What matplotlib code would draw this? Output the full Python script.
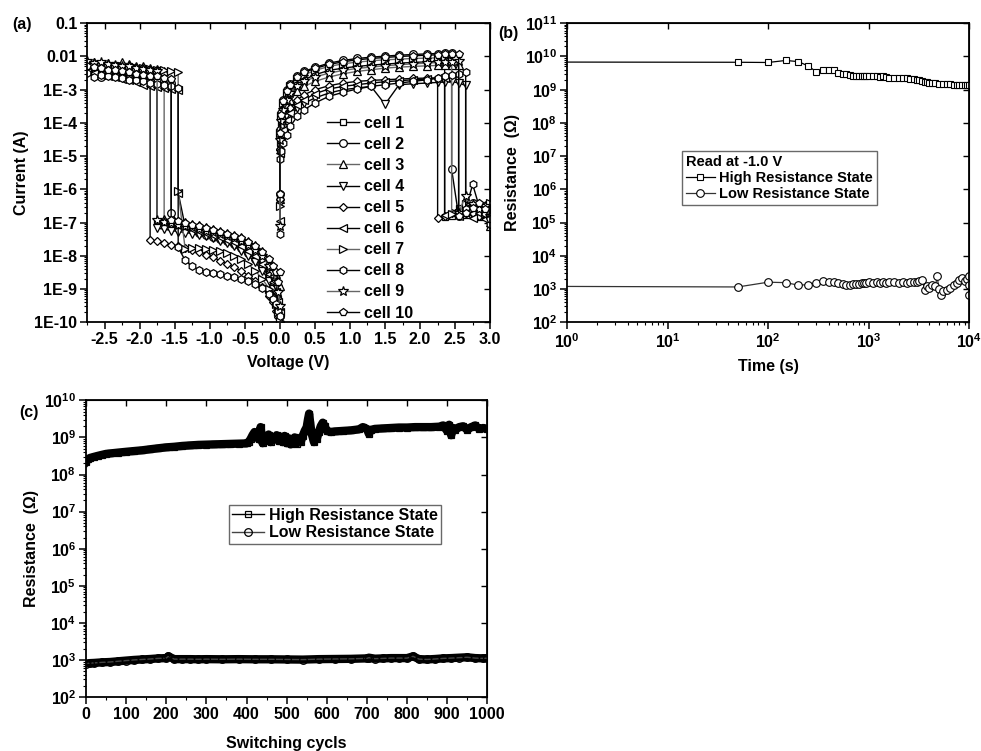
import numpy as np
import matplotlib
matplotlib.use("Agg")
import matplotlib.pyplot as plt
from matplotlib.ticker import (FixedLocator, FixedFormatter, FuncFormatter,
                               LogLocator, MultipleLocator, NullFormatter,
                               NullLocator, FormatStrFormatter)

# ---------------- (a) I-V sweeps of 10 cells (log10 of current) ----------------
cell_names = ["cell 1", "cell 2", "cell 3", "cell 4", "cell 5",
              "cell 6", "cell 7", "cell 8", "cell 9", "cell 10"]

# negative side: LRS read from -2.75 V up to the set voltage,
# HRS listed from 0 V outward down to the set voltage
neg_lrs_v = [-2.75, -2.65, -2.55, -2.45, -2.35, -2.25, -2.15, -2.05, -1.95,
             -1.85, -1.75, -1.65, -1.55, -1.45]
neg_hrs_v = [0.0, -0.02, -0.05, -0.1, -0.15, -0.25, -0.35, -0.45, -0.55, -0.65,
             -0.75, -0.85, -0.95, -1.05, -1.15, -1.25, -1.35, -1.45, -1.55,
             -1.65, -1.75, -1.85]
neg_lrs_log = [
    [-2.25, -2.28, -2.22, -2.30, -2.27, -2.33, -2.30, -2.36, -2.34, -2.40, -2.42],
    [-2.35, -2.40, -2.62, -2.55, -2.50, -2.55, -2.58, -2.60, -2.62, -2.66, -2.70, -2.75, -2.80],
    [-2.20, -2.18, -2.22, -2.20, -2.25, -2.17, -2.24, -2.28, -2.30, -2.35, -2.38, -2.45],
    [-2.40, -2.45, -2.42, -2.50, -2.55, -2.60, -2.62, -2.70, -2.75, -2.82, -2.90],
    [-2.30, -2.32, -2.35, -2.38, -2.40, -2.45, -2.48, -2.55, -2.60, -2.70],
    [-2.45, -2.50, -2.55, -2.60, -2.63, -2.68, -2.72, -2.78, -2.85, -2.88, -2.92, -2.95, -2.98, -3.00],
    [-2.25, -2.25, -2.28, -2.25, -2.30, -2.28, -2.32, -2.35, -2.35, -2.38, -2.40, -2.42, -2.45, -2.48],
    [-2.50, -2.62, -2.55, -2.58, -2.62, -2.65, -2.70, -2.72, -2.75, -2.80, -2.83, -2.85, -2.90, -2.95],
    [-2.15, -2.20, -2.18, -2.22, -2.25, -2.28, -2.30, -2.35, -2.38, -2.42, -2.45],
    [-2.30, -2.32, -2.35, -2.40, -2.42, -2.45, -2.48, -2.52, -2.55, -2.58, -2.60, -2.65, -2.68],
]
neg_hrs_log = [
    [-9.7, -9.3, -8.95, -8.65, -8.45, -8.15, -7.95, -7.8, -7.66, -7.56, -7.48, -7.41, -7.35, -7.3, -7.25, -7.2, -7.15, -7.11, -7.07, -7.03, -6.98],
    [-9.8, -9.5, -9.2, -8.9, -8.65, -8.35, -8.1, -7.92, -7.78, -7.66, -7.57, -7.5, -7.43, -7.37, -7.3, -7.22, -7.12, -7.0, -6.7],
    [-8.9, -8.8, -8.55, -8.3, -8.1, -7.85, -7.68, -7.55, -7.45, -7.38, -7.3, -7.24, -7.18, -7.13, -7.08, -7.03, -6.99, -6.95, -6.92, -6.88],
    [-9.9, -9.6, -9.3, -9.0, -8.75, -8.45, -8.2, -8.0, -7.85, -7.72, -7.62, -7.55, -7.48, -7.42, -7.37, -7.33, -7.3, -7.27, -7.24, -7.2, -7.17],
    [-10.0, -9.85, -9.65, -9.4, -9.2, -8.95, -8.75, -8.6, -8.45, -8.35, -8.25, -8.15, -8.05, -7.97, -7.9, -7.84, -7.78, -7.72, -7.67, -7.62, -7.57, -7.52],
    [-9.7, -9.4, -9.1, -8.8, -8.55, -8.25, -8.02, -7.85, -7.72, -7.6, -7.52, -7.45, -7.38, -7.32, -7.26, -7.2, -7.12, -6.1],
    [-9.95, -9.7, -9.45, -9.2, -9.0, -8.7, -8.45, -8.25, -8.1, -8.0, -7.92, -7.86, -7.82, -7.8, -7.78, -7.76, -7.8, -6.05],
    [-9.8, -9.65, -9.45, -9.3, -9.15, -8.98, -8.85, -8.76, -8.7, -8.64, -8.6, -8.56, -8.52, -8.48, -8.42, -8.32, -8.14, -7.75],
    [-9.5, -9.1, -8.8, -8.5, -8.3, -8.02, -7.82, -7.68, -7.57, -7.48, -7.41, -7.35, -7.29, -7.24, -7.19, -7.14, -7.1, -7.06, -7.02, -6.97, -6.92],
    [-8.5, -8.8, -8.5, -8.3, -8.1, -7.9, -7.72, -7.58, -7.48, -7.4, -7.33, -7.27, -7.21, -7.16, -7.11, -7.06, -7.01, -6.96, -6.92],
]

# positive side: LRS from 0 V up to the reset voltage,
# HRS listed from 3.0 V back down to the reset voltage
pos_lrs_v = [0.0, 0.0, 0.02, 0.05, 0.1, 0.15, 0.25, 0.35, 0.5, 0.7, 0.9, 1.1,
             1.3, 1.5, 1.7, 1.9, 2.1, 2.25, 2.35, 2.45, 2.55, 2.65]
pos_hrs_v = [3.0, 2.92, 2.84, 2.75, 2.65, 2.55, 2.45, 2.35, 2.25]
pos_lrs_log = [
    [-6.2, -4.6, -4.0, -3.6, -3.3, -3.1, -2.85, -2.7, -2.55, -2.42, -2.35, -2.3, -2.26, -2.23, -2.2, -2.18, -2.16, -2.15, -2.14],
    [-6.15, -4.2, -3.7, -3.3, -3.02, -2.82, -2.6, -2.45, -2.33, -2.2, -2.12, -2.06, -2.02, -1.99, -1.96, -1.94, -1.92, -1.91, -1.9, -1.9],
    [-6.3, -4.7, -4.2, -3.8, -3.5, -3.3, -3.05, -2.9, -2.75, -2.62, -2.52, -2.45, -2.4, -2.35, -2.32, -2.3, -2.28, -2.27, -2.26, -2.25, -2.25],
    [-6.4, -4.9, -4.6, -4.3, -4.0, -3.8, -3.55, -3.4, -3.25, -3.1, -3.0, -2.95, -2.9, -3.44, -2.85, -2.82, -2.8, -2.78, -2.76, -2.75, -2.8, -2.87],
    [-6.3, -4.8, -4.4, -4.05, -3.75, -3.55, -3.3, -3.15, -3.0, -2.88, -2.8, -2.75, -2.72, -2.7, -2.68, -2.66, -2.65, -2.64],
    [-6.95, -4.9, -4.5, -4.2, -3.9, -3.7, -3.45, -3.3, -3.12, -2.98, -2.9, -2.85, -2.8, -2.76, -2.73, -2.7, -2.68, -2.66, -2.65],
    [-6.5, -4.3, -3.8, -3.4, -3.1, -2.9, -2.68, -2.55, -2.42, -2.3, -2.22, -2.17, -2.13, -2.1, -2.08, -2.06, -2.05, -2.04, -2.03, -2.15],
    [-7.35, -5.1, -4.85, -4.6, -4.35, -4.1, -3.8, -3.6, -3.4, -3.2, -3.08, -2.98, -2.9, -2.85, -2.8, -2.75, -2.7, -2.65, -2.6, -2.55, -2.52, -2.48],
    [-7.1, -4.5, -3.95, -3.6, -3.3, -3.1, -2.9, -2.75, -2.62, -2.5, -2.42, -2.36, -2.32, -2.28, -2.25, -2.22, -2.2, -2.18, -2.17, -2.16, -2.15],
    [-6.15, -4.3, -3.75, -3.35, -3.05, -2.85, -2.62, -2.48, -2.36, -2.24, -2.16, -2.1, -2.06, -2.03, -2.0, -1.98, -1.96, -1.95, -1.94, -1.93, -1.92],
]
pos_hrs_log = [
    [-7.0, -6.6, -6.75, -6.5, -6.7, -6.55, -6.8, -6.82],
    [-6.9, -6.5, -6.7, -6.4, -6.6, -6.8, -5.4],
    [-7.1, -6.7, -6.8, -6.6, -6.75, -6.7],
    [-7.0, -6.8, -6.6, -6.7, -6.75],
    [-6.9, -6.6, -6.8, -6.7, -6.6, -6.75, -6.7, -6.8, -6.85],
    [-7.1, -6.9, -6.7, -6.85, -6.6, -6.8, -6.7, -6.78],
    [-6.4, -6.7, -6.5, -6.6, -6.45, -6.7, -6.75],
    [-7.05, -6.7, -6.5, -5.85, -6.6],
    [-6.8, -6.5, -6.6, -6.45, -6.2, -6.7],
    [-6.9, -6.6, -6.4, -6.55, -6.7, -6.8],
]
a_ytick_labels = ["1E-10", "1E-9", "1E-8", "1E-7", "1E-6", "1E-5", "1E-4",
                  "1E-3", "0.01", "0.1"]

# ---------------- (b) retention, read at -1.0 V ----------------
b_hrs_t = [0.5, 50, 100, 150, 200, 250, 300, 350, 400, 450, 500, 550, 600, 650,
           700, 750, 800, 850, 900, 950, 1000, 1100, 1200, 1300, 1400, 1500,
           1600, 1800, 2000, 2200, 2400, 2600, 2800, 3000, 3200, 3400, 3600,
           3800, 4000, 4300, 4600, 5000, 5500, 6000, 6500, 7000, 7500, 8000,
           8500, 9000, 9500, 10000]
b_hrs_r = [6.8e9, 6.7e9, 6.6e9, 7.6e9, 7.0e9, 5.2e9, 3.5e9, 3.9e9, 3.9e9, 3.8e9,
           3.1e9, 2.9e9, 3.0e9, 2.7e9, 2.6e9, 2.5e9, 2.5e9, 2.5e9, 2.5e9, 2.5e9,
           2.5e9, 2.6e9, 2.5e9, 2.4e9, 2.5e9, 2.4e9, 2.3e9, 2.3e9, 2.2e9, 2.2e9,
           2.2e9, 2.1e9, 2.1e9, 2.0e9, 1.9e9, 1.8e9, 1.7e9, 1.65e9, 1.6e9, 1.6e9,
           1.55e9, 1.5e9, 1.5e9, 1.45e9, 1.45e9, 1.4e9, 1.4e9, 1.4e9, 1.4e9,
           1.4e9, 1.4e9, 1.4e9]
b_lrs_t = [0.5, 50, 100, 150, 200, 250, 300, 350, 400, 450, 500, 550, 600, 650,
           700, 750, 800, 850, 900, 950, 1000, 1100, 1200, 1300, 1400, 1500,
           1600, 1800, 2000, 2200, 2400, 2600, 2800, 3000, 3200, 3400, 3600,
           3800, 4000, 4300, 4600, 4800, 5000, 5200, 5500, 6000, 6500, 7000,
           7500, 8000, 8500, 9000, 9500, 10000, 10000, 10000]
b_lrs_r = [1.2e3, 1.15e3, 1.6e3, 1.55e3, 1.3e3, 1.35e3, 1.55e3, 1.7e3, 1.6e3,
           1.6e3, 1.55e3, 1.4e3, 1.35e3, 1.35e3, 1.4e3, 1.45e3, 1.4e3, 1.5e3,
           1.55e3, 1.5e3, 1.6e3, 1.55e3, 1.65e3, 1.55e3, 1.6e3, 1.55e3, 1.6e3,
           1.6e3, 1.55e3, 1.6e3, 1.55e3, 1.6e3, 1.65e3, 1.6e3, 1.7e3, 1.9e3,
           9.5e2, 1.2e3, 1.1e3, 1.3e3, 1.2e3, 2.4e3, 1.0e3, 6.8e2, 8.5e2, 9.5e2,
           1.1e3, 1.3e3, 1.5e3, 1.8e3, 2.2e3, 1.7e3, 2.0e3, 2.5e3, 1.3e3, 6.5e2]

# ---------------- (c) endurance ----------------
c_hrs_n = [0, 5, 10, 20, 30, 40, 50, 60, 80, 100, 120, 140, 160, 180, 200, 220,
           240, 260, 280, 300, 320, 340, 360, 380, 400, 405, 410, 415, 420, 425,
           430, 435, 440, 445, 450, 455, 460, 465, 470, 475, 480, 485, 490, 495,
           500, 505, 510, 515, 520, 525, 530, 535, 540, 545, 550, 553, 556, 559,
           562, 565, 568, 571, 575, 580, 585, 590, 595, 600, 610, 620, 640, 660,
           680, 690, 700, 705, 710, 720, 740, 760, 780, 800, 820, 840, 860, 880,
           890, 900, 905, 910, 915, 920, 930, 940, 950, 960, 970, 980, 990, 1000]
c_hrs_r = [2.2e8, 2.6e8, 2.8e8, 3.0e8, 3.2e8, 3.4e8, 3.6e8, 3.7e8, 3.9e8, 4.1e8,
           4.3e8, 4.5e8, 4.8e8, 5.1e8, 5.4e8, 5.6e8, 5.9e8, 6.1e8, 6.3e8, 6.4e8,
           6.5e8, 6.6e8, 6.7e8, 6.8e8, 6.9e8, 7.5e8, 9.0e8, 1.15e9, 1.4e9, 1.2e9,
           9.0e8, 1.9e9, 7.0e8, 1.1e9, 8.0e8, 1.2e9, 7.5e8, 1.0e9, 9.0e8, 1.15e9,
           8.0e8, 1.05e9, 7.5e8, 1.1e9, 7.0e8, 9.5e8, 6.5e8, 7.0e8, 1.0e9, 6.8e8,
           8.5e8, 7.5e8, 1.1e9, 1.5e9, 1.9e9, 3.0e9, 4.4e9, 2.3e9, 1.3e9, 1.0e9,
           7.5e8, 1.1e9, 9.0e8, 1.4e9, 2.0e9, 2.5e9, 2.0e9, 1.5e9, 1.4e9, 1.45e9,
           1.5e9, 1.55e9, 1.65e9, 1.9e9, 1.7e9, 1.25e9, 1.6e9, 1.7e9, 1.75e9,
           1.8e9, 1.85e9, 1.85e9, 1.9e9, 1.9e9, 1.9e9, 1.95e9, 2.1e9, 1.5e9,
           2.2e9, 1.15e9, 1.8e9, 1.6e9, 1.9e9, 2.0e9, 1.6e9, 1.9e9, 2.1e9, 1.7e9,
           1.8e9, 1.7e9]
c_lrs_n = [0, 10, 20, 40, 60, 80, 100, 120, 140, 160, 180, 200, 205, 220, 240,
           260, 280, 300, 340, 380, 420, 460, 500, 540, 580, 620, 660, 700, 705,
           720, 740, 760, 780, 800, 815, 830, 850, 870, 890, 910, 930, 950, 970,
           990, 1000]
c_lrs_r = [8.0e2, 8.2e2, 8.3e2, 8.6e2, 8.8e2, 9.2e2, 9.6e2, 1.0e3, 1.03e3,
           1.06e3, 1.1e3, 1.12e3, 1.25e3, 1.05e3, 1.05e3, 1.05e3, 1.04e3, 1.05e3,
           1.04e3, 1.05e3, 1.04e3, 1.04e3, 1.03e3, 1.02e3, 1.05e3, 1.06e3,
           1.07e3, 1.1e3, 1.15e3, 1.08e3, 1.1e3, 1.12e3, 1.12e3, 1.12e3, 1.25e3,
           1.05e3, 1.03e3, 1.06e3, 1.1e3, 1.12e3, 1.15e3, 1.18e3, 1.12e3, 1.1e3,
           1.12e3]

# ---------------- style ----------------
plt.rcParams.update({
    "font.family": ["Liberation Sans", "DejaVu Sans"],
    "font.weight": "bold",
    "axes.labelweight": "bold",
    "font.size": 11.5,
    "axes.unicode_minus": False,
    "mathtext.fontset": "custom",
    "mathtext.rm": "Liberation Sans:bold",
    "mathtext.bf": "Liberation Sans:bold",
})

markers = ["s", "o", "^", "v", "D", "<", ">", "h", "*", "p"]
msizes = [5, 5.5, 5.5, 5.5, 4.5, 5.5, 5.5, 5.5, 7, 6]
lcolors = ["black", "black", "#666666", "black", "black",
           "black", "#666666", "black", "#666666", "black"]


def log_sci(v, pos):
    return r"$\mathbf{10^{%d}}$" % int(round(np.log10(v)))


def frame(ax):
    for sp in ax.spines.values():
        sp.set_linewidth(1.3)
    ax.tick_params(which="major", direction="out", length=5, width=1.1, pad=2)
    ax.tick_params(which="minor", direction="out", length=2.5, width=0.8)
    top = ax.secondary_xaxis("top")
    top.set_xticks([t for t in ax.get_xticks()])
    top.xaxis.set_minor_locator(NullLocator())
    top.tick_params(direction="in", length=4, width=1.0, labeltop=False)
    right = ax.secondary_yaxis("right")
    right.set_yticks([t for t in ax.get_yticks()])
    right.yaxis.set_minor_locator(NullLocator())
    right.tick_params(direction="in", length=4, width=1.0, labelright=False)


fig = plt.figure(figsize=(9.81, 7.51), dpi=100)
ax_a = fig.add_axes([0.0887, 0.571, 0.411, 0.398])
ax_b = fig.add_axes([0.578, 0.571, 0.410, 0.398])
ax_c = fig.add_axes([0.0877, 0.0719, 0.409, 0.395])

# ---- (a)
handles = []
for k in range(len(cell_names)):
    style = dict(color=lcolors[k], lw=1.0, marker=markers[k], ms=msizes[k],
                 mfc="white", mec="black", mew=0.9)
    n1, n2 = len(neg_lrs_log[k]), len(neg_hrs_log[k])
    v_neg = neg_lrs_v[:n1] + neg_hrs_v[:n2][::-1]
    i_neg = neg_lrs_log[k] + neg_hrs_log[k][::-1]
    ax_a.plot(v_neg, 10.0 ** np.array(i_neg), **style)
    m1, m2 = len(pos_lrs_log[k]), len(pos_hrs_log[k])
    v_pos = pos_lrs_v[:m1] + pos_hrs_v[:m2][::-1]
    i_pos = pos_lrs_log[k] + pos_hrs_log[k][::-1]
    h, = ax_a.plot(v_pos, 10.0 ** np.array(i_pos), label=cell_names[k], **style)
    handles.append(h)

ax_a.set_yscale("log")
ax_a.set_xlim(-2.75, 3.0)
ax_a.set_ylim(1e-10, 0.1)
ax_a.xaxis.set_major_locator(MultipleLocator(0.5))
ax_a.xaxis.set_minor_locator(MultipleLocator(0.25))
ax_a.xaxis.set_major_formatter(FormatStrFormatter("%.1f"))
ax_a.yaxis.set_major_locator(FixedLocator([10.0 ** e for e in range(-10, 0)]))
ax_a.yaxis.set_major_formatter(FixedFormatter(a_ytick_labels))
ax_a.yaxis.set_minor_locator(LogLocator(base=10, subs=np.arange(2, 10), numticks=100))
ax_a.yaxis.set_minor_formatter(NullFormatter())
ax_a.set_xlabel("Voltage (V)", labelpad=6)
ax_a.set_ylabel("Current (A)", labelpad=4)
frame(ax_a)
ax_a.legend(handles=handles, loc="upper left", bbox_to_anchor=(0.595, 0.69),
            frameon=False, borderpad=0, borderaxespad=0, handlelength=2.0,
            handletextpad=0.3, labelspacing=0.38)

# ---- (b)
ax_b.plot(b_hrs_t, b_hrs_r, color="black", lw=0.9, marker="s", ms=5,
          mfc="white", mec="black", mew=0.8, label="High Resistance State")
ax_b.plot(b_lrs_t, b_lrs_r, color="#333333", lw=0.9, marker="o", ms=5.5,
          mfc="white", mec="black", mew=0.8, label="Low Resistance State")
ax_b.set_xscale("log")
ax_b.set_yscale("log")
ax_b.set_xlim(1, 1e4)
ax_b.set_ylim(1e2, 1e11)
ax_b.xaxis.set_major_locator(FixedLocator([1, 10, 100, 1000, 10000]))
ax_b.xaxis.set_major_formatter(FuncFormatter(log_sci))
ax_b.xaxis.set_minor_locator(LogLocator(base=10, subs=np.arange(2, 10), numticks=100))
ax_b.xaxis.set_minor_formatter(NullFormatter())
ax_b.yaxis.set_major_locator(FixedLocator([10.0 ** e for e in range(2, 12)]))
ax_b.yaxis.set_major_formatter(FuncFormatter(log_sci))
ax_b.yaxis.set_minor_locator(LogLocator(base=10, subs=np.arange(2, 10), numticks=100))
ax_b.yaxis.set_minor_formatter(NullFormatter())
ax_b.set_xlabel("Time (s)", labelpad=6)
ax_b.set_ylabel("Resistance  (\u03a9)", labelpad=4)
frame(ax_b)
leg_b = ax_b.legend(loc="upper left", bbox_to_anchor=(0.286, 0.572),
                    title="Read at -1.0 V", alignment="left", fancybox=False,
                    edgecolor="#444444", borderpad=0.25, borderaxespad=0,
                    handlelength=2.0, handletextpad=0.3, labelspacing=0.15,
                    fontsize=10.5, title_fontsize=10.5)
leg_b.get_title().set_fontweight("bold")
leg_b.get_frame().set_linewidth(1.0)

# ---- (c): dense cycling data drawn as a dark band, with open markers on top
ax_c.plot(c_hrs_n, c_hrs_r, color="black", lw=6, solid_joinstyle="round",
          zorder=2)
ax_c.plot(c_lrs_n, c_lrs_r, color="black", lw=6, solid_joinstyle="round",
          zorder=2)
ax_c.plot(c_hrs_n, c_hrs_r, color="black", lw=1.0, marker="s", ms=5,
          mfc="none", mec="black", mew=0.9, label="High Resistance State",
          zorder=3)
ax_c.plot(c_lrs_n, c_lrs_r, color="#444444", lw=1.0, marker="o", ms=5.5,
          mfc="none", mec="black", mew=0.9, label="Low Resistance State",
          zorder=3)
ax_c.set_yscale("log")
ax_c.set_xlim(0, 1000)
ax_c.set_ylim(1e2, 1e10)
ax_c.xaxis.set_major_locator(MultipleLocator(100))
ax_c.xaxis.set_minor_locator(MultipleLocator(50))
ax_c.yaxis.set_major_locator(FixedLocator([10.0 ** e for e in range(2, 11)]))
ax_c.yaxis.set_major_formatter(FuncFormatter(log_sci))
ax_c.yaxis.set_minor_locator(LogLocator(base=10, subs=np.arange(2, 10), numticks=100))
ax_c.yaxis.set_minor_formatter(NullFormatter())
ax_c.set_xlabel("Switching cycls", labelpad=10)
ax_c.set_ylabel("Resistance  (\u03a9)", labelpad=4)
frame(ax_c)
leg_c = ax_c.legend(loc="upper left", bbox_to_anchor=(0.357, 0.648),
                    fancybox=False, edgecolor="#444444", borderpad=0.2,
                    borderaxespad=0, handlelength=2.0, handletextpad=0.3,
                    labelspacing=0.15)
leg_c.get_frame().set_linewidth(1.0)

fig.text(0.012, 0.967, "(a)", fontsize=11.5, fontweight="bold", va="center")
fig.text(0.508, 0.956, "(b)", fontsize=11.5, fontweight="bold", va="center")
fig.text(0.020, 0.451, "(c)", fontsize=11.5, fontweight="bold", va="center")

fig.savefig("out.png", dpi=100)
